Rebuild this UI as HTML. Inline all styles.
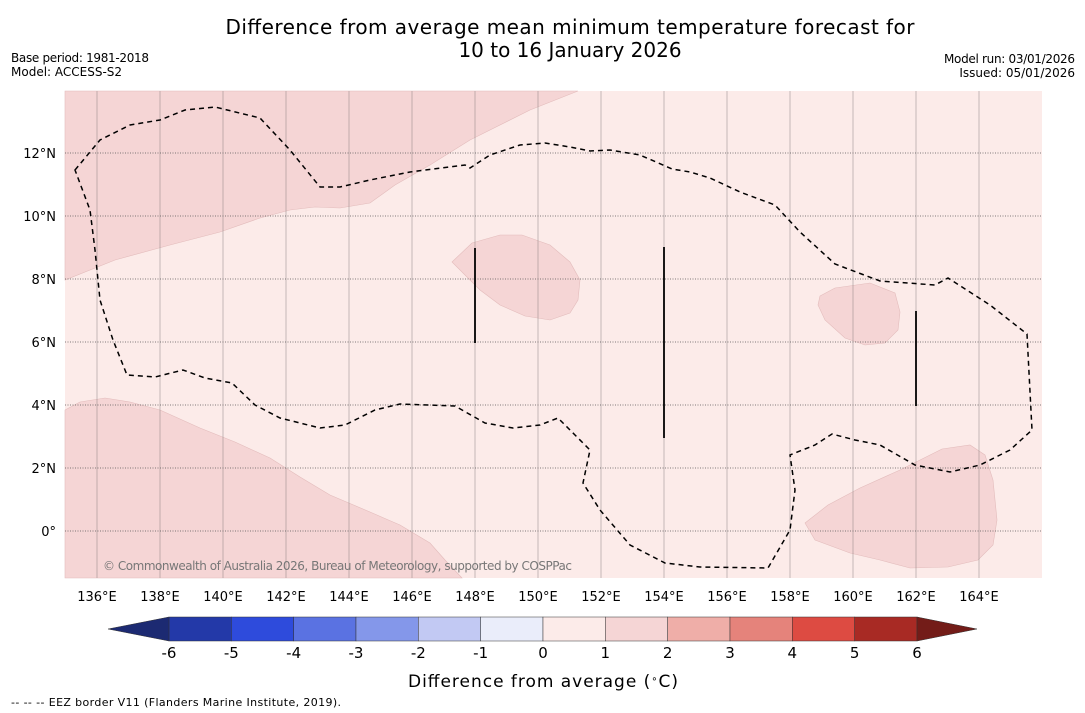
<!DOCTYPE html>
<html><head><meta charset="utf-8"><style>
body{margin:0;background:#fff;font-family:"Liberation Sans","DejaVu Sans",sans-serif;}
svg{display:block}
</style></head><body>
<svg id="c" width="1085" height="713" xmlns="http://www.w3.org/2000/svg" font-family="DejaVu Sans, Liberation Sans, sans-serif">
<text x="570" y="34" text-anchor="middle" font-size="20" textLength="689">Difference from average mean minimum temperature forecast for</text>
<text x="570" y="57" text-anchor="middle" font-size="20">10 to 16 January 2026</text>
<text x="11" y="62" font-size="12" textLength="138">Base period: 1981-2018</text>
<text x="11" y="76" font-size="12">Model: ACCESS-S2</text>
<text x="1075" y="63" font-size="12" text-anchor="end" textLength="131">Model run: 03/01/2026</text>
<text x="1075" y="77" font-size="12" text-anchor="end">Issued: 05/01/2026</text>
<g id="map"></g>
<g id="cbar"></g>
<text x="543" y="687" text-anchor="middle" font-size="17" textLength="270">Difference from average (<tspan baseline-shift="super" font-size="10">∘</tspan>C)</text>
<text x="11" y="706" font-size="11" textLength="330">--  --  -- EEZ border V11 (Flanders Marine Institute, 2019).</text>
</svg>
<script>
const lonTicks=[136,138,140,142,144,146,148,150,152,154,156,158,160,162,164];
const latTicks=[0,2,4,6,8,10,12];
const cbarLevels=[-6,-5,-4,-3,-2,-1,0,1,2,3,4,5,6];
const cbarColors=["#2339a8","#2e4bdc","#5a72e2","#8497ea","#c2c9f3","#eaedfa","#fcebe9","#f5d5d5","#efaea8","#e5837b","#dd4b42","#a82a24"];
const NS="http://www.w3.org/2000/svg";
const L=65,R=1042,T=91,B=578;
const x=lon=>65.5+(lon-135)*31.5;
const y=lat=>531-lat*31.5;
function el(t,a,p){const e=document.createElementNS(NS,t);for(const k in a)e.setAttribute(k,a[k]);p.appendChild(e);return e;}
const m=document.getElementById('map');
let r=el('rect',{x:L,y:T,width:R-L,height:B-T,fill:'#fcebe9'},m);

const shades=[
"65,91 578,91 530,110 470,140 430,165 395,185 370,203 340,208 315,207 290,210 260,218 220,232 170,245 115,260 65,280",
"65,410 80,402 105,398 130,402 160,410 200,428 235,442 270,458 300,477 330,495 370,512 400,525 430,543 445,560 462,578 65,578",
"452,262 472,243 500,235 522,235 550,245 570,262 580,280 578,300 570,313 550,320 525,316 500,305 480,290",
"820,296 835,288 870,283 895,293 900,312 898,330 885,343 865,345 845,338 825,320 818,305",
"805,523 828,505 860,488 900,470 942,449 970,445 985,455 993,480 997,520 993,545 978,560 948,567 910,568 880,560 850,553 815,540"];
shades.forEach((p,i)=>{const s=el('polygon',{points:p,fill:'#f5d5d5',stroke:'#e3bcbc','stroke-width':0.6},m);
});
lonTicks.forEach(v=>{const g=el('line',{x1:x(v),x2:x(v),y1:T,y2:B,stroke:'#8a8080','stroke-width':0.6,opacity:0.8},m);

const t=el('text',{x:x(v),y:601,'text-anchor':'middle','font-size':13},m);t.textContent=v+'°E';
});
latTicks.forEach(v=>{const g=el('line',{x1:L,x2:R,y1:y(v),y2:y(v),stroke:'#555','stroke-width':0.7,'stroke-dasharray':'1,1.5'},m);

const t=el('text',{x:56,y:y(v)+5,'text-anchor':'end','font-size':13},m);t.textContent=v===0?'0°':v+'°N';
});
const eez="75,170 100,140 130,125 160,120 185,110 215,107 260,118 290,150 320,187 340,187 370,180 410,172 465,165 470,168 490,155 520,145 545,143 570,147 590,151 610,150 640,155 672,169 690,172 710,178 740,192 775,205 800,232 835,264 880,281 935,285 948,278 990,305 1027,334 1032,430 1010,450 980,465 950,472 915,465 880,445 855,440 832,434 815,445 790,455 795,490 790,530 768,568 700,567 665,563 630,545 600,510 583,483 590,450 575,435 558,418 540,425 513,428 485,423 455,406 400,404 375,410 345,425 320,428 280,418 255,405 232,383 205,378 183,370 155,377 127,375 113,340 100,300 95,250 90,210 75,170";
const e=el('polygon',{points:eez,fill:'none',stroke:'#000','stroke-width':1.5,'stroke-dasharray':'5,4'},m);

[[475,248,343],[664,247,438],[916,311,406]].forEach(a=>{const l=el('line',{x1:a[0],x2:a[0],y1:a[1],y2:a[2],stroke:'#000','stroke-width':1.8},m);
});
const ct=el('text',{x:103,y:570,'font-size':12,fill:'#777',textLength:469},m);ct.textContent='© Commonwealth of Australia 2026, Bureau of Meteorology, supported by COSPPac';

const cb=document.getElementById('cbar');
const cx=v=>169+(v+6)*(917-169)/12;
const cy0=617,cy1=641;
cbarColors.forEach((c,i)=>{const s=el('rect',{x:cx(cbarLevels[i]),y:cy0,width:cx(cbarLevels[i+1])-cx(cbarLevels[i]),height:cy1-cy0,fill:c,stroke:'#333','stroke-width':0.5},cb);
});
let tl=el('polygon',{points:`108,629 169,${cy0} 169,${cy1}`,fill:'#1c2a72',stroke:'#333','stroke-width':0.5},cb);

let tr=el('polygon',{points:`977,629 917,${cy0} 917,${cy1}`,fill:'#731c18',stroke:'#333','stroke-width':0.5},cb);

cbarLevels.forEach(v=>{const t=el('text',{x:cx(v),y:658,'text-anchor':'middle','font-size':15},cb);t.textContent=v;
});
</script>
</body></html>
